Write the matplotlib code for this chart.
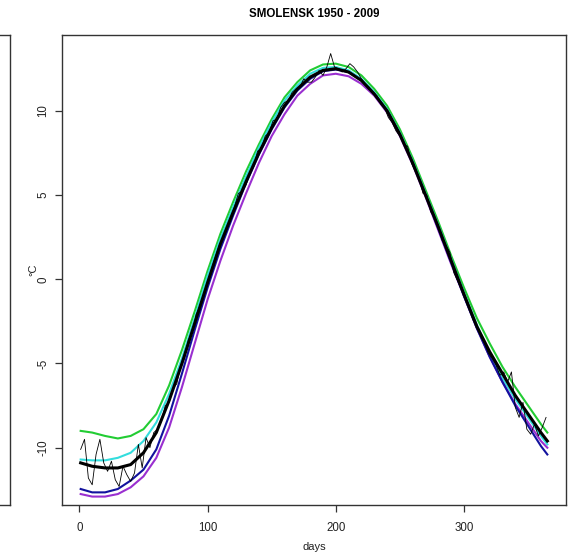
import numpy as np
import matplotlib
matplotlib.use("Agg")
import matplotlib.pyplot as plt

plt.rcParams['font.family'] = ['Liberation Sans', 'DejaVu Sans']

# Raw daily means (read every 3 days)
raw_days = list(range(1, 366, 3))
raw_vals = [-10.1, -9.5, -11.8, -12.2, -10.4, -9.5, -10.9, -11.4, -10.8, -11.9,
            -12.3, -11.1, -11.6, -12.0, -11.5, -9.8, -11.2, -9.4, -10.0, -9.1,
            -8.9, -8.4, -7.5, -7.3, -6.5, -6.2, -5.1, -4.7, -3.6, -3.2,
            -2.1, -1.6, -0.9, -0.1, 0.6, 1.3, 2.0, 2.4, 3.0, 3.6,
            4.3, 5.1, 5.2, 5.6, 6.3, 6.7, 7.6, 7.8, 8.5, 8.7,
            9.4, 9.5, 10.2, 10.5, 10.6, 11.1, 11.3, 11.4, 11.9, 11.7,
            11.7, 12.0, 12.4, 12.1, 12.6, 13.4, 12.6, 12.5, 12.3, 12.5,
            12.8, 12.6, 12.3, 11.9, 11.6, 11.4, 11.0, 10.9, 10.4, 10.2,
            9.6, 9.3, 8.8, 8.5, 8.0, 7.9, 6.9, 6.4, 6.0, 5.1,
            5.0, 4.0, 3.7, 3.2, 2.3, 2.0, 1.6, 0.4, -0.1, -0.6,
            -1.1, -1.6, -2.4, -2.7, -3.4, -3.8, -4.4, -4.7, -5.1, -5.7,
            -5.5, -6.1, -5.5, -7.6, -8.2, -7.3, -8.9, -9.2, -8.6, -9.3,
            -8.8, -8.2]

# Smoothed fits (read every 10 days)
fit_days = [1] + list(range(10, 361, 10)) + [365]
fit_black = [-10.9, -11.1, -11.2, -11.2, -11.0, -10.3, -9.1, -7.2, -5.0, -2.6,
             -0.2, 2.1, 4.0, 5.8, 7.5, 9.0, 10.3, 11.3, 12.0, 12.4,
             12.5, 12.3, 11.8, 11.0, 10.0, 8.6, 6.9, 5.0, 3.1, 1.1,
             -0.9, -2.8, -4.3, -5.6, -6.9, -8.0, -9.1, -9.6]
fit_green = [-9.0, -9.1, -9.3, -9.45, -9.3, -8.9, -8.0, -6.3, -4.2, -1.9,
             0.5, 2.7, 4.6, 6.4, 8.0, 9.5, 10.8, 11.7, 12.4, 12.75,
             12.8, 12.6, 12.1, 11.3, 10.3, 8.9, 7.2, 5.3, 3.4, 1.4,
             -0.5, -2.3, -3.8, -5.2, -6.4, -7.5, -8.6, -9.1]
fit_cyan = [-10.7, -10.75, -10.75, -10.6, -10.3, -9.6, -8.5, -6.8, -4.7, -2.3,
            0.2, 2.4, 4.3, 6.1, 7.8, 9.3, 10.6, 11.5, 12.2, 12.55,
            12.6, 12.4, 11.9, 11.1, 10.1, 8.7, 7.0, 5.1, 3.2, 1.2,
            -0.8, -2.7, -4.4, -5.9, -7.1, -8.2, -9.3, -9.8]
fit_blue = [-12.45, -12.65, -12.65, -12.45, -11.95, -11.3, -10.1, -8.1, -5.6, -3.0,
            -0.5, 1.8, 3.8, 5.7, 7.4, 8.9, 10.2, 11.2, 11.9, 12.35,
            12.45, 12.3, 11.8, 11.0, 10.0, 8.6, 6.9, 5.0, 3.0, 1.0,
            -1.0, -2.9, -4.6, -6.1, -7.5, -8.7, -9.9, -10.4]
fit_purple = [-12.75, -12.9, -12.9, -12.75, -12.35, -11.7, -10.6, -8.8, -6.4, -3.8,
              -1.2, 1.1, 3.2, 5.1, 6.9, 8.5, 9.8, 10.9, 11.6, 12.1,
              12.2, 12.05, 11.6, 10.9, 9.9, 8.5, 6.8, 4.9, 2.9, 0.9,
              -1.0, -2.9, -4.6, -6.1, -7.4, -8.5, -9.6, -10.0]

x_ticks = [0, 100, 200, 300]
y_ticks = [-10, -5, 0, 5, 10]
title = "SMOLENSK 1950 - 2009"

W, H = 572, 555
fig = plt.figure(figsize=(W / 100, H / 100), dpi=100)

# partial neighbouring panel at the left edge
axl = fig.add_axes([-0.5, (H - 505) / H, 0.5 + 10 / W, 470 / H])
axl.set_xticks([]); axl.set_yticks([])
for s in axl.spines.values():
    s.set_color('#333333'); s.set_linewidth(1.0)

ax = fig.add_axes([62 / W, (H - 505) / H, (566 - 62) / W, 470 / H])
ax.plot(fit_days, fit_green, color='#22cc33', lw=1.5)
ax.plot(fit_days, fit_cyan, color='#33dddd', lw=1.5)
ax.plot(fit_days, fit_purple, color='#9a2fd0', lw=1.5)
ax.plot(fit_days, fit_blue, color='#12129e', lw=1.5)
ax.plot(fit_days, fit_black, color='black', lw=2.2)
ax.plot(raw_days, raw_vals, color='black', lw=0.6)

ax.set_xlim(-13.56, 379.56)
ax.set_ylim(-13.4, 14.5)
ax.set_xticks(x_ticks)
ax.set_xticklabels([str(v) for v in x_ticks])
ax.set_yticks(y_ticks)
ax.set_yticklabels([str(v) for v in y_ticks], rotation=90, va='center')
ax.tick_params(axis='x', direction='out', length=5, width=0.9, color='#333333',
               labelsize=8.3, labelcolor='#222222', pad=7)
ax.tick_params(axis='y', direction='out', length=5, width=0.9, color='#333333',
               labelsize=8.3, labelcolor='#222222', pad=4)
for s in ax.spines.values():
    s.set_color('#333333'); s.set_linewidth(1.0)

fig.text(314 / W, 1 - 14 / H, title, ha='center', va='center',
         fontsize=8.3, fontweight='bold')
fig.text(314 / W, 1 - 547 / H, 'days', ha='center', va='center', fontsize=8,
         color='#222222')
fig.text(33 / W, 1 - 270 / H, '°C', ha='center', va='center', rotation=90,
         fontsize=8, color='#222222')

fig.savefig('out.png', dpi=100)
